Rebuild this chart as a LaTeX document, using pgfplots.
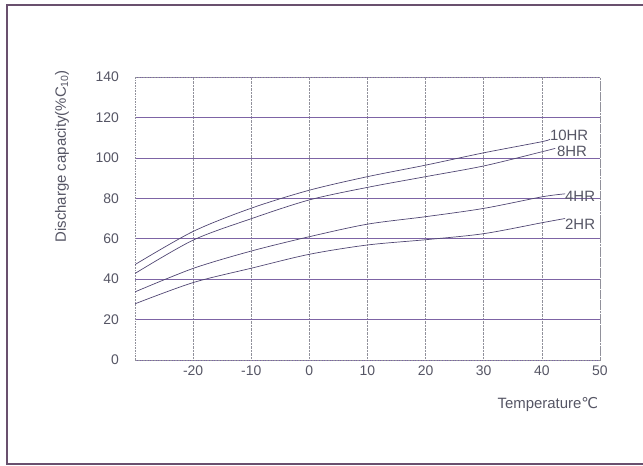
\documentclass[border=0pt]{standalone}
\usepackage{pgfplots}
\pgfplotsset{compat=1.18}
\usepackage{fontspec}
\setmainfont{Liberation Sans}
\newfontfamily\dejavu{DejaVu Sans}
\definecolor{inkgray}{RGB}{85,85,100}
\definecolor{curve}{RGB}{80,70,115}
\definecolor{hgrid}{RGB}{125,100,165}
\definecolor{vgrid}{RGB}{145,145,155}
\definecolor{frame}{RGB}{105,80,110}

\begin{document}
\begin{tikzpicture}
  \path[use as bounding box] (0bp,0bp) rectangle (643bp,466bp);
  \draw[frame, line width=1.5bp] (660bp,461bp) -- (7bp,461bp) -- (7bp,2bp) -- (660bp,2bp);
  \begin{axis}[
      at={(135bp,106bp)}, anchor=south west,
      scale only axis, width=465bp, height=283bp,
      xmin=-30, xmax=50, ymin=0, ymax=140,
      xtick={-20,-10,...,50}, ytick={0,20,...,140},
      major tick length=0pt,
      xmajorgrids, ymajorgrids,
      x grid style={vgrid, densely dotted, line width=0.6bp},
      y grid style={hgrid, line width=0.5bp},
      axis line style={vgrid, densely dotted, line width=0.6bp},
      /pgf/number format/assume math mode=true,
      tick label style={inkgray, font=\fontsize{14}{16}\selectfont},
      yticklabel style={anchor=east, xshift=-12.5bp},
      xticklabel style={anchor=north, yshift=-2bp},
      xlabel={Temperature{\dejavu ℃}},
      ylabel={Discharge capacity(\%C\textsubscript{10})},
      every axis x label/.style={at={(axis description cs:0.888,-0.159)}, anchor=center,
        inkgray, font=\fontsize{15}{17}\selectfont},
      every axis y label/.style={at={(axis description cs:-0.157,0.72)}, anchor=center, rotate=90,
        inkgray, font=\fontsize{15}{17}\selectfont},
    ]
    \addplot[curve, line width=0.7bp, smooth] coordinates {
        (-30,47.2) (-20,63.6) (-10,75.1) (0,84.0) (10,90.7) (20,96.4) (30,102.5) (40,108.0) (41.4,109.3)};
    \addplot[curve, line width=0.7bp, smooth] coordinates {
        (-30,42.8) (-20,59.3) (-10,69.9) (0,79.2) (10,85.4) (20,90.7) (30,96.0) (40,103.0) (42.3,104.7)};
    \addplot[curve, line width=0.7bp, smooth] coordinates {
        (-30,33.7) (-20,45.3) (-10,53.9) (0,61.0) (10,67.2) (20,70.9) (30,75.0) (40,80.7) (44,82.2)};
    \addplot[curve, line width=0.7bp, smooth] coordinates {
        (-30,27.8) (-20,38.3) (-10,45.4) (0,52.3) (10,56.9) (20,59.5) (30,62.5) (40,67.9) (44,70.0)};
    \begin{scope}[every node/.style={inkgray, font=\fontsize{15}{17}\selectfont, anchor=west, inner sep=1bp}]
      \node at (axis cs:41.2,111) {10HR};
      \node at (axis cs:42.4,103) {8HR};
      \node at (axis cs:43.8,81) {4HR};
      \node at (axis cs:43.8,67.2) {2HR};
    \end{scope}
  \end{axis}
\end{tikzpicture}
\end{document}
